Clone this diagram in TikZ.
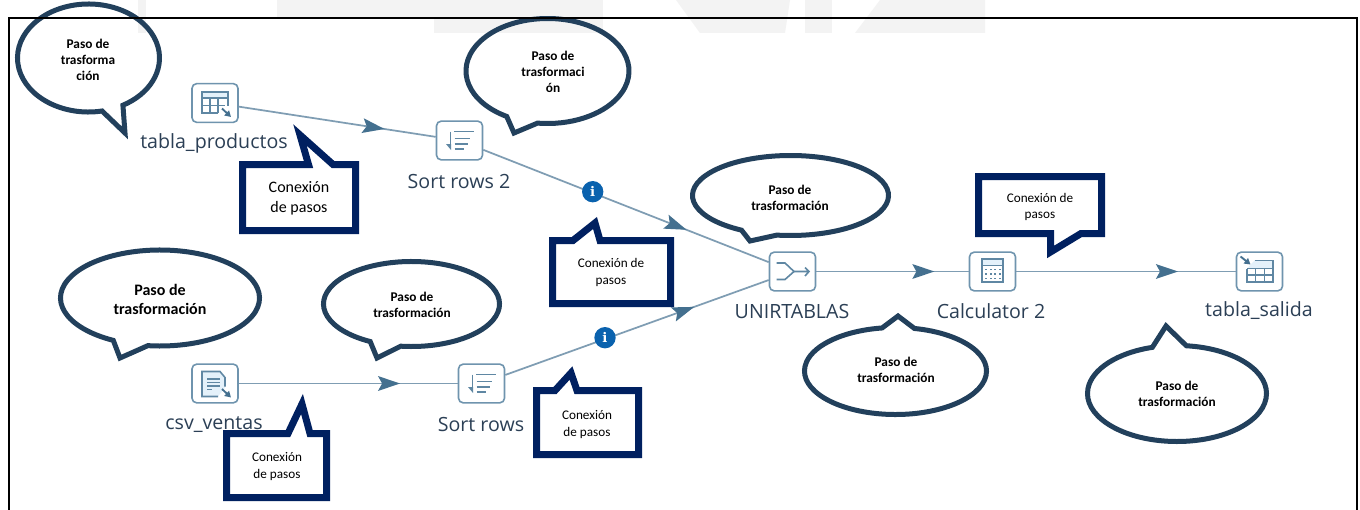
\documentclass[tikz,border=0pt]{standalone}
\usepackage{fontspec}
\setmainfont{Carlito}
\newfontfamily\stepfont{Open Sans}
\newfontfamily\infofont{DejaVu Serif}
\usetikzlibrary{arrows.meta,decorations.markings}
\definecolor{ecallc}{HTML}{22405C}
\definecolor{rcallc}{HTML}{002060}
\definecolor{boxc}{HTML}{6F94AE}
\definecolor{linkc}{HTML}{7F9DB3}
\definecolor{headc}{HTML}{44708F}
\definecolor{iconc}{HTML}{5F87A3}
\definecolor{iconfill}{HTML}{E4F1FA}
\definecolor{infoc}{HTML}{0A62AE}
\definecolor{labelc}{HTML}{2B3F55}
\definecolor{markc}{HTML}{F3F3F3}
\tikzset{
  ecallshape/.style={draw=ecallc,line width=3.75pt,miter limit=20,line join=miter},
  rcallshape/.style={draw=rcallc,line width=5.25pt,miter limit=20,line join=miter},
  ebold/.style={align=center,inner sep=0pt,text=black,font=\fontsize{10}{12}\selectfont\bfseries},
  eboldbig/.style={align=center,inner sep=0pt,text=black,font=\fontsize{12}{14}\selectfont\bfseries},
  rtext/.style={align=center,inner sep=0pt,text=black,font=\fontsize{9.9}{12.6}\selectfont},
  rtextbig/.style={align=center,inner sep=0pt,text=black,font=\fontsize{12}{15}\selectfont},
  stepbox/.style={draw=boxc,line width=1.2pt,rounded corners=3.5pt,minimum width=34.5pt,minimum height=29pt,inner sep=0pt,fill=white},
  steplabel/.style={inner sep=0pt,text=labelc,font=\fontsize{14.7}{16}\stepfont},
  infonode/.style={circle,fill=infoc,minimum size=16pt,inner sep=0pt,text=white,font=\fontsize{10}{10}\infofont\bfseries},
  link/.style={draw=linkc,line width=1.3pt,postaction={decorate},
    decoration={markings,mark=at position #1 with {\arrow[headc]{Stealth[length=16.5pt,width=11pt,inset=3pt]}}}},
  ico/.style={draw=iconc,line width=1.2pt},
  icothin/.style={draw=iconc,line width=1pt},
  icoarrow/.style={draw=headc,line width=1.4pt,-{Stealth[length=4.5pt,width=5pt,inset=0pt]}},
}
% #1 cx, #2 cy, #3 rx, #4 ry, #5 start angle, #6 end angle, #7 tail tip
\newcommand{\ecall}[7]{%
  \draw[ecallshape] ({#1+#3*cos(#5)},{#2+#4*sin(#5)})
    arc[start angle=#5,end angle=#6,x radius=#3,y radius=#4] -- (#7) -- cycle;}
\newcommand{\sorticon}[1]{%
  \begin{scope}[shift={(#1)}]
    \draw[ico] (-5.5,-9) -- (14.5,-9) (-5,-2) -- (10,-2) (-5,3.5) -- (8,3.5) (-5,8.5) -- (4,8.5);
    \draw[ico] (-9,-9) -- (-9,8);
    \fill[iconc] (-13.5,3.5) -- (-8.5,3.5) -- (-8.5,9.5) -- cycle;
  \end{scope}}
\begin{document}
\begin{tikzpicture}[x=0.75pt,y=-0.75pt]
\useasboundingbox (0,0) rectangle (1360,510);
\fill[white] (0,0) rectangle (1360,510);
% faint watermark at the top edge
\fill[markc] (138,0) rectangle (146,33);
\fill[markc] (277,0) rectangle (434,17);
\fill[markc] (434,0) rectangle (603,33);
\fill[markc] (676,0) -- (790,0) -- (785,33) -- (700,33) -- cycle;
\fill[markc] (805,0) -- (832,0) -- (832,33) -- (805,33) -- cycle;
\fill[markc] (880,0) -- (985,0) -- (985,33) -- (855,33) -- cycle;

% steps
\node[stepbox] (prod) at (215,103) {};
\node[stepbox] (sortb) at (459.5,140.5) {};
\node[stepbox] (csv) at (215,383.5) {};
\node[stepbox] (sorta) at (481.5,383.5) {};
\node[stepbox] (unir) at (792.5,271.5) {};
\node[stepbox] (calc) at (992.5,271.5) {};
\node[stepbox] (out) at (1259.5,271.5) {};

% connectors
\draw[link=.74] (prod) -- (sortb);
\draw[link=.712] (sortb) -- (unir);
\draw[link=.737] (csv) -- (sorta);
\draw[link=.717] (sorta) -- (unir);
\draw[link=.775] (unir) -- (calc);
\draw[link=.737] (calc) -- (out);

\node[infonode] (infoa) at (592.7,191.7) {i};
\node[infonode] (infob) at (605,337.7) {i};

% step labels
\node[steplabel] (lprod) at (214,143.5) {tabla\_productos};
\node[steplabel] (lsortb) at (459,181) {Sort rows 2};
\node[steplabel] (lcsv) at (214,424.5) {csv\_ventas};
\node[steplabel] (lsorta) at (481,424) {Sort rows};
\node[steplabel] (lunir) at (792,311) {UNIRTABLAS};
\node[steplabel] (lcalc) at (991,311) {Calculator 2};
\node[steplabel] (lout) at (1259,311) {tabla\_salida};

% icons
\begin{scope}[shift={(prod.center)}]
  \fill[iconfill] (-13,-11) rectangle (13,-5);
  \draw[ico] (3,10) -- (-13,10) -- (-13,-11) -- (13,-11) -- (13,3);
  \draw[icothin] (-13,-5) -- (13,-5) (-13,2.5) -- (10,2.5) (-5,-5) -- (-5,10) (3,-5) -- (3,10);
  \draw[icoarrow] (7,5.5) -- (16,14);
\end{scope}
\sorticon{sortb.center}
\sorticon{sorta.center}
\begin{scope}[shift={(csv.center)}]
  \fill[iconfill] (-13,-12) -- (5,-12) -- (10,-6) -- (10,4) -- (3,13) -- (-13,13) -- cycle;
  \draw[ico] (10,3) -- (10,-6) -- (5,-12) -- (-13,-12) -- (-13,13) -- (3,13);
  \draw[icothin] (-8,-4.5) -- (5,-4.5) (-8,-1) -- (5,-1) (-8,2.5) -- (5,2.5) (-8,6) -- (-3,6);
  \draw[icoarrow] (7,5.5) -- (16,14);
\end{scope}
\begin{scope}[shift={(unir.center)}]
  \draw[ico] (-16,-8.5) -- (-7.5,-8.5) -- (1.5,0) -- (-7.5,8) -- (-16,8);
  \draw[ico] (1.5,0) -- (16.5,0) (12.5,-4) -- (16.5,0) -- (12.5,4.5);
\end{scope}
\begin{scope}[shift={(calc.center)}]
  \fill[iconfill] (-10.5,-12.5) rectangle (10.5,-6);
  \draw[ico] (-10.5,-12.5) rectangle (10.5,10.5);
  \draw[icothin] (-10.5,-6) -- (10.5,-6);
  \foreach \cy in {-2,2.5,7}{\foreach \cx in {-6.5,-2,2.5,7}{\fill[iconc] (\cx-1,\cy-.8) rectangle (\cx+1,\cy+.8);}}
\end{scope}
\begin{scope}[shift={(out.center)}]
  \fill[iconfill] (-5,-11) -- (13.5,-11) -- (13.5,-3) -- (-12.5,-3) -- cycle;
  \draw[ico] (-5,-11) -- (13.5,-11) -- (13.5,10.5) -- (-12.5,10.5) -- (-12.5,-3);
  \draw[icothin] (-12.5,-3) -- (13.5,-3) (-12.5,3.5) -- (13.5,3.5) (-4,-3) -- (-4,10.5) (5,-3) -- (5,10.5);
  \draw[icoarrow] (-19,-15) -- (-9,-7);
\end{scope}

% ellipse callouts
\ecall{88.5}{58}{71}{54}{79}{421}{125,133}
\ecall{547.5}{71}{81.5}{52.5}{120}{457}{514,133}
\ecall{790.5}{195.5}{98}{40}{120}{458}{750,241}
\ecall{160}{298}{99.5}{48}{118}{457}{120,358}
\ecall{411.5}{304}{88}{42.5}{118}{457}{377,358}
\ecall{895.5}{371}{91}{43.5}{282}{621.5}{898,316}
\ecall{1177}{393.5}{89.5}{48}{276}{614}{1166,326}

\node[ebold] (ta) at (88,59.5) {Paso de\\trasforma\\ción};
\node[ebold] (tb) at (553,72) {Paso de\\trasformaci\\ón};
\node[ebold] (tc) at (790,198) {Paso de\\trasformación};
\node[eboldbig] (td) at (160,299.5) {Paso de\\trasformación};
\node[ebold] (te) at (412,305) {Paso de\\trasformación};
\node[ebold] (tf) at (896,370) {Paso de\\trasformación};
\node[ebold] (tg) at (1177,394) {Paso de\\trasformación};

% rectangular callouts
\draw[rcallshape] (242.5,164.5) -- (308.5,164.5) -- (300,135) -- (333,164.5) -- (355.5,164.5) -- (355.5,230.5) -- (242.5,230.5) -- cycle;
\draw[rcallshape] (226.5,433.5) -- (288,433.5) -- (302,404) -- (310,433.5) -- (326.5,433.5) -- (326.5,497.5) -- (226.5,497.5) -- cycle;
\draw[rcallshape] (552.5,240.5) -- (573,240.5) -- (595,223) -- (600,240.5) -- (670.5,240.5) -- (670.5,303.5) -- (552.5,303.5) -- cycle;
\draw[rcallshape] (536.5,390.5) -- (555,390.5) -- (571,373) -- (577,390.5) -- (638.5,390.5) -- (638.5,454.5) -- (536.5,454.5) -- cycle;
\draw[rcallshape] (978.5,176.5) -- (1101.5,176.5) -- (1101.5,233.5) -- (1081,233.5) -- (1050.5,252) -- (1050.5,233.5) -- (978.5,233.5) -- cycle;

\node[rtextbig] (ra) at (299,198) {Conexión\\de pasos};
\node[rtext] (rb) at (277,466.5) {Conexión\\de pasos};
\node[rtext] (rc) at (611,272.5) {Conexión de\\pasos};
\node[rtext] (rd) at (587,424.5) {Conexión\\de pasos};
\node[rtext] (re) at (1040,207) {Conexión de\\pasos};

% frame, open at the bottom edge
\draw[black,line width=2pt] (9,510) -- (9,18) -- (1357,18) -- (1357,510);
\end{tikzpicture}
\end{document}
